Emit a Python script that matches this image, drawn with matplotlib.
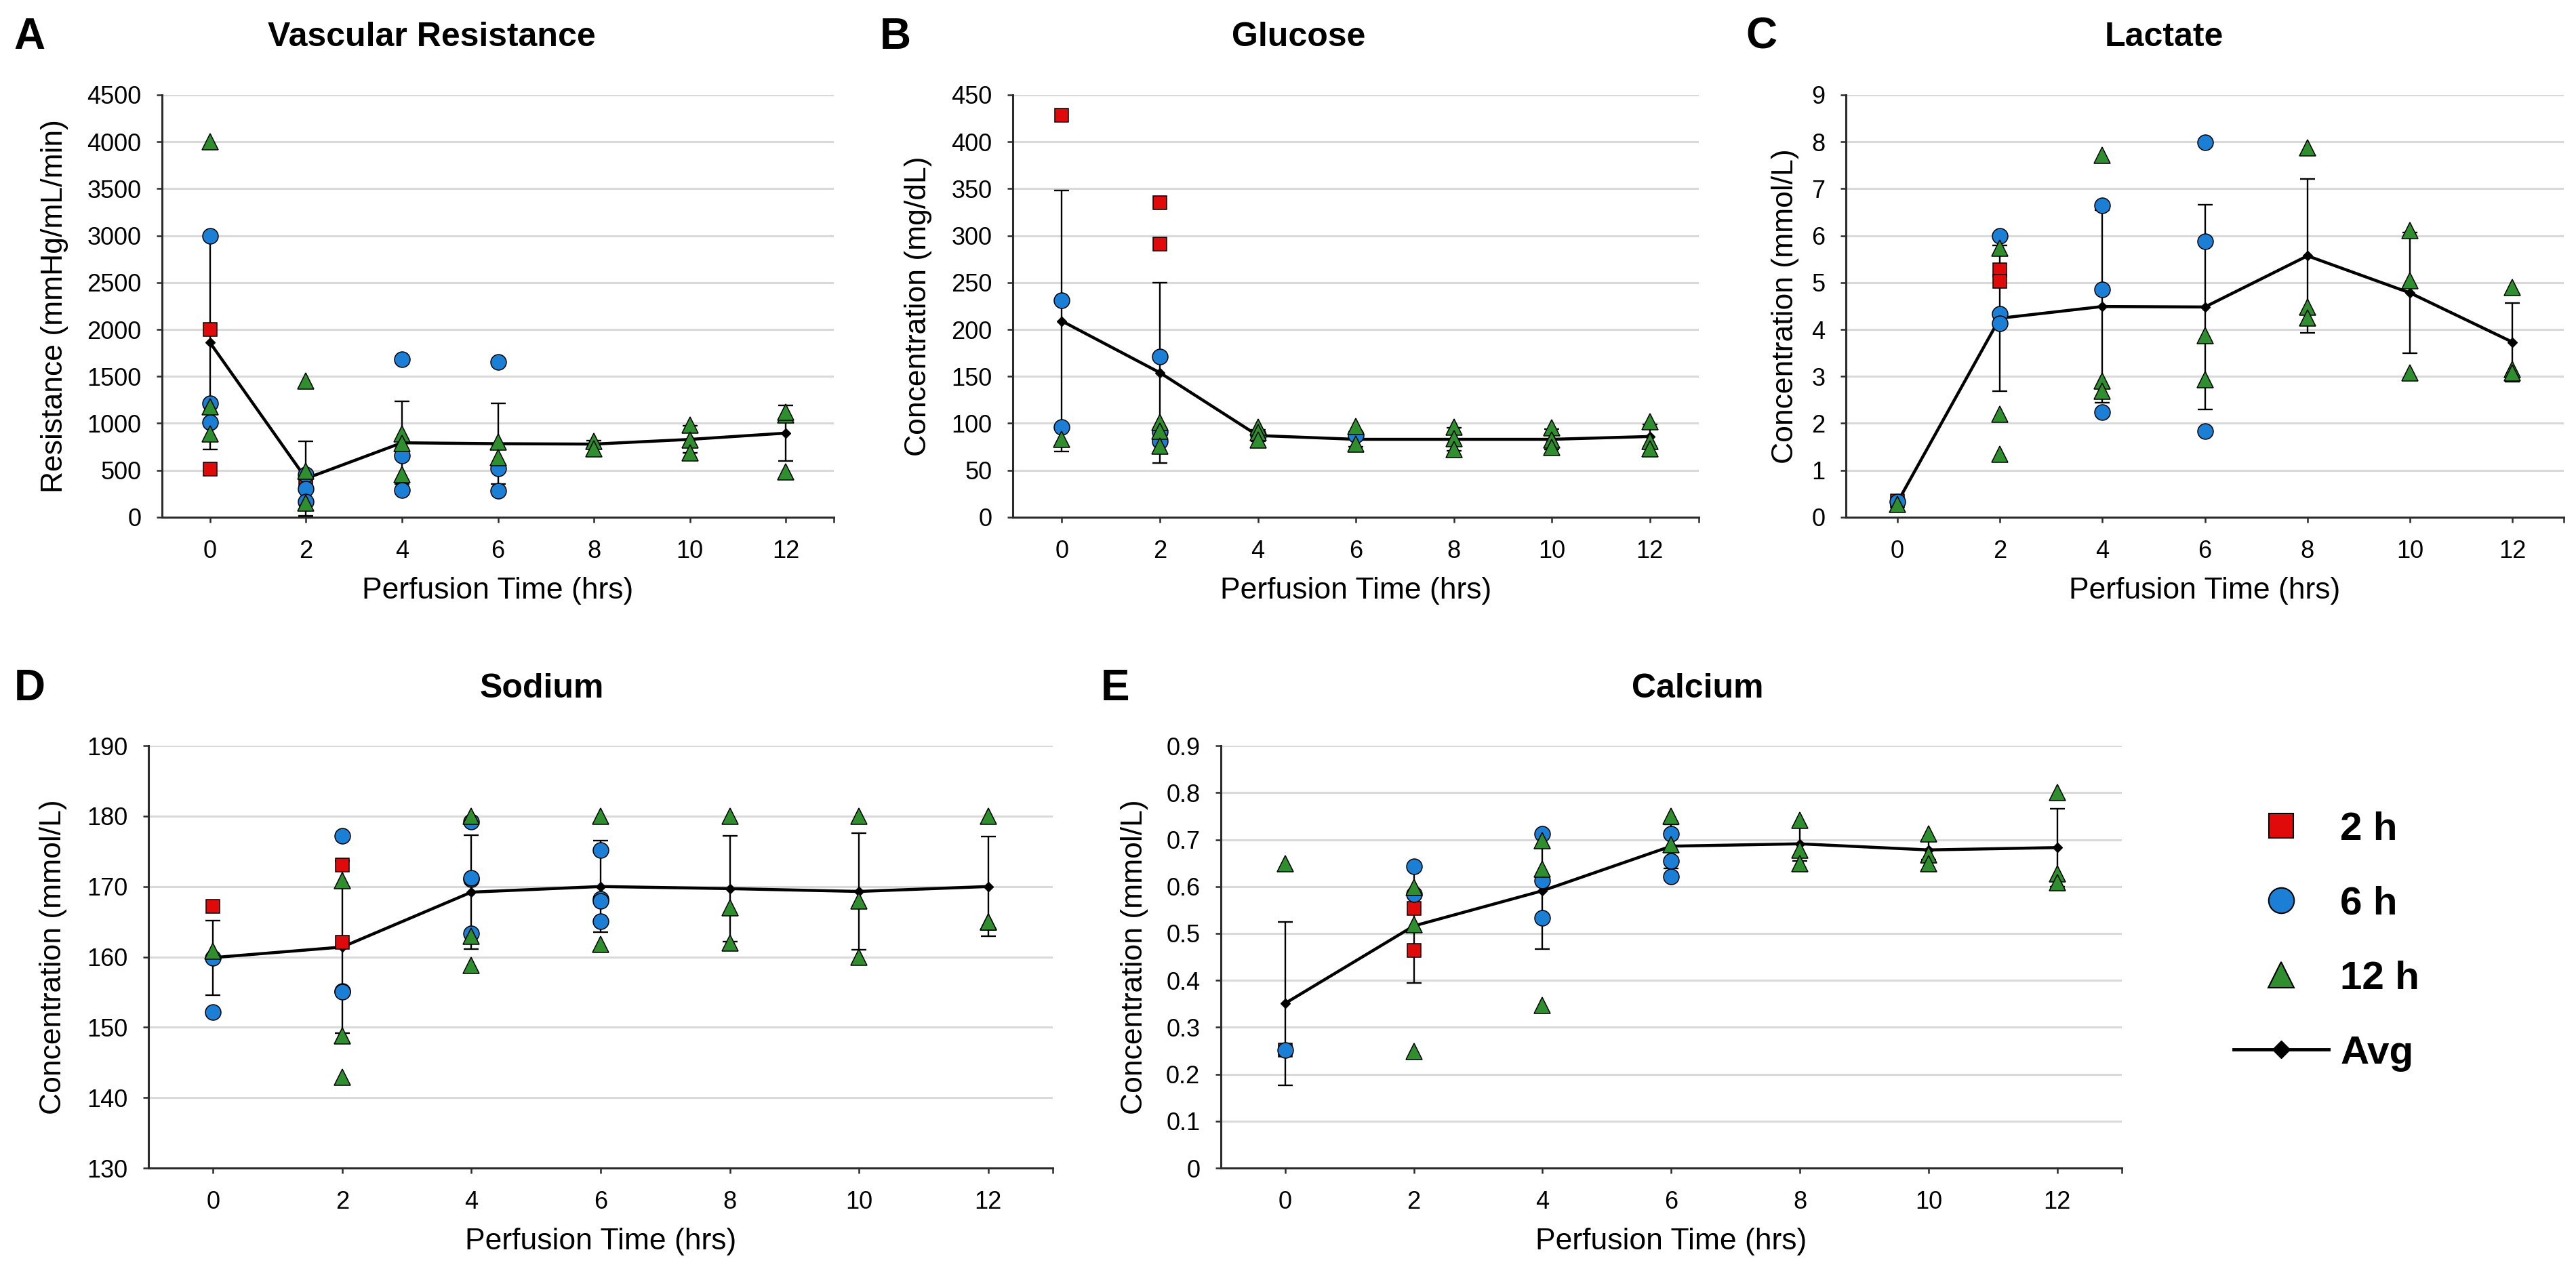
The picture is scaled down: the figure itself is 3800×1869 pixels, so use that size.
import matplotlib
matplotlib.use('Agg')
import matplotlib.pyplot as plt
from matplotlib.lines import Line2D

plt.rcParams['font.family'] = ['Liberation Sans', 'DejaVu Sans']

hours = [0, 2, 4, 6, 8, 10, 12]

# A - vascular resistance
res_2h_x = [0, 0, 2]
res_2h_y = [2000, 510, 380]
res_6h_x = [0, 0, 0, 2, 2, 2, 4, 4, 4, 6, 6, 6]
res_6h_y = [3000, 1210, 1010, 457, 305, 168, 1680, 655, 290, 1655, 521, 283]
res_12h_x = [0, 0, 0, 2, 2, 2, 4, 4, 4, 6, 6, 8, 8, 10, 10, 10, 12, 12, 12]
res_12h_y = [4000, 1175, 890, 1450, 490, 150, 890, 787, 457, 804, 638, 812, 729, 979, 825, 687, 1090, 1120, 480]
res_avg = [1860, 412, 793, 783, 779, 829, 896]
res_sd = [1135, 395, 442, 429, 40, 146, 295]

# B - glucose
glu_2h_x = [0, 2, 2]
glu_2h_y = [428, 335, 291]
glu_6h_x = [0, 0, 2, 2, 2, 4, 6]
glu_6h_y = [231, 96, 171, 91, 81, 87, 87]
glu_12h_x = [0, 2, 2, 2, 4, 4, 4, 6, 6, 8, 8, 8, 10, 10, 10, 12, 12, 12]
glu_12h_y = [83, 101, 92, 76, 96, 90, 82, 97, 78, 96, 84, 72, 95, 82, 74, 102, 81, 73]
glu_avg = [209, 154, 87, 83, 83, 83, 86]
glu_sd = [139, 96, 6, 8, 12, 11, 13]

# C - lactate
lac_2h_x = [0, 2, 2]
lac_2h_y = [0.35, 5.27, 5.03]
lac_6h_x = [0, 2, 2, 2, 4, 4, 4, 6, 6, 6]
lac_6h_y = [0.33, 5.99, 4.33, 4.13, 6.65, 4.85, 2.24, 7.99, 5.88, 1.83]
lac_12h_x = [0, 2, 2, 2, 4, 4, 4, 6, 6, 8, 8, 8, 10, 10, 10, 12, 12, 12]
lac_12h_y = [0.27, 5.73, 2.20, 1.34, 7.71, 2.90, 2.68, 3.87, 2.93, 7.88, 4.48, 4.25, 6.11, 5.04, 3.08, 4.90, 3.15, 3.07]
lac_avg = [0.31, 4.24, 4.49, 4.48, 5.57, 4.78, 3.73]
lac_sd = [0.04, 1.55, 2.05, 2.18, 1.64, 1.28, 0.84]

# D - sodium
na_2h_x = [0, 2, 2]
na_2h_y = [167.2, 173.1, 162.1]
na_6h_x = [0, 0, 2, 2, 2, 4, 4, 4, 4, 6, 6, 6, 6]
na_6h_y = [159.9, 152.2, 177.2, 155.1, 155.0, 179.2, 171.0, 171.2, 163.3, 175.2, 168.2, 168.0, 165.1]
na_12h_x = [0, 2, 2, 2, 4, 4, 4, 6, 6, 8, 8, 8, 10, 10, 10, 12, 12, 12]
na_12h_y = [160.8, 170.8, 148.8, 142.9, 180.0, 162.9, 158.8, 180.0, 161.8, 180.0, 167.0, 162.0, 180.0, 168.0, 160.0, 180.0, 165.0, 165.0]
na_avg = [159.9, 161.4, 169.2, 170.0, 169.7, 169.3, 170.0]
na_sd = [5.3, 12.2, 8.1, 6.5, 7.5, 8.3, 7.1]

# E - calcium
ca_2h_x = [0, 2, 2]
ca_2h_y = [0.252, 0.553, 0.464]
ca_6h_x = [0, 2, 2, 4, 4, 4, 6, 6, 6]
ca_6h_y = [0.252, 0.643, 0.584, 0.713, 0.612, 0.533, 0.712, 0.655, 0.622]
ca_12h_x = [0, 2, 2, 2, 4, 4, 4, 6, 6, 8, 8, 8, 10, 10, 10, 12, 12, 12]
ca_12h_y = [0.649, 0.598, 0.519, 0.249, 0.698, 0.637, 0.347, 0.750, 0.689, 0.741, 0.678, 0.649, 0.712, 0.667, 0.649, 0.800, 0.627, 0.609]
ca_avg = [0.351, 0.516, 0.591, 0.686, 0.691, 0.678, 0.683]
ca_sd = [0.174, 0.121, 0.124, 0.047, 0.037, 0.02, 0.083]

RED = '#E10A0A'
BLUE = '#1C7FD6'
GREEN = '#2F8F2F'
GRID = '#D9D9D9'
AXC = '#2B2B2B'

fig = plt.figure(figsize=(38, 18.69), dpi=100)


def panel(rect, g2, g6, g12, avg, sd, ylim, ystep, ylabel, ylab_x, title, tx, ty, letter, lx):
    ax = fig.add_axes(rect)
    ax.errorbar(hours, avg, yerr=sd, color='black', lw=3.2, marker='D', ms=7,
                ecolor='black', elinewidth=1.7, capsize=8, capthick=1.7, zorder=3)
    ax.plot(g2[0], g2[1], ls='none', marker='s', ms=15, mfc=RED, mec='black', mew=1.1, zorder=4)
    ax.plot(g6[0], g6[1], ls='none', marker='o', ms=16.5, mfc=BLUE, mec='black', mew=1.1, zorder=4)
    ax.plot(g12[0], g12[1], ls='none', marker='^', ms=17, mfc=GREEN, mec='black', mew=1.1, zorder=4)
    ax.set_xlim(-1, 13)
    ax.set_ylim(*ylim)
    yt = [ylim[0] + i * ystep for i in range(int(round((ylim[1] - ylim[0]) / ystep)) + 1)]
    ax.set_yticks(yt)
    ax.set_yticklabels([f'{round(v, 3):g}' for v in yt])
    ax.set_xticks(hours)
    ax.set_xticks([13], minor=True)
    ax.tick_params(axis='x', which='both', length=6, width=1.8, color=AXC, pad=18, labelsize=26)
    ax.tick_params(axis='y', length=6, width=1.8, color=AXC, pad=16, labelsize=26)
    ax.grid(axis='y', color=GRID, lw=2.2, zorder=0)
    ax.set_axisbelow(True)
    for s in ['top', 'right']:
        ax.spines[s].set_visible(False)
    for s in ['left', 'bottom']:
        ax.spines[s].set_color(AXC)
        ax.spines[s].set_linewidth(2.2)
    ax.set_xlabel('Perfusion Time (hrs)', fontsize=32, va='center')
    ax.xaxis.set_label_coords(0.5, -0.174)
    ax.set_ylabel(ylabel, fontsize=32, va='center')
    ax.yaxis.set_label_coords(ylab_x, 0.5)
    fig.text(tx, ty, title, fontsize=36, fontweight='bold', ha='center', va='center')
    fig.text(lx, ty, letter, fontsize=46, fontweight='bold', ha='left', va='center')
    return ax


top_y = 0.9706
bot_y = 0.4564

panel([0.0629, 0.5918, 0.2608, 0.3333], (res_2h_x, res_2h_y), (res_6h_x, res_6h_y),
      (res_12h_x, res_12h_y), res_avg, res_sd, (0, 4500), 500,
      'Resistance (mmHg/mL/min)', -0.160, 'Vascular Resistance', 0.1676, top_y, 'A', 0.0053)
panel([0.3932, 0.5918, 0.2663, 0.3333], (glu_2h_x, glu_2h_y), (glu_6h_x, glu_6h_y),
      (glu_12h_x, glu_12h_y), glu_avg, glu_sd, (0, 450), 50,
      'Concentration (mg/dL)', -0.138, 'Glucose', 0.504, top_y, 'B', 0.3416)
panel([0.7166, 0.5918, 0.2787, 0.3333], (lac_2h_x, lac_2h_y), (lac_6h_x, lac_6h_y),
      (lac_12h_x, lac_12h_y), lac_avg, lac_sd, (0, 9), 1,
      'Concentration (mmol/L)', -0.085, 'Lactate', 0.840, top_y, 'C', 0.6776)
panel([0.0576, 0.0781, 0.3511, 0.3333], (na_2h_x, na_2h_y), (na_6h_x, na_6h_y),
      (na_12h_x, na_12h_y), na_avg, na_sd, (130, 190), 10,
      'Concentration (mmol/L)', -0.105, 'Sodium', 0.2103, bot_y, 'D', 0.0055)
panel([0.4739, 0.0781, 0.3497, 0.3333], (ca_2h_x, ca_2h_y), (ca_6h_x, ca_6h_y),
      (ca_12h_x, ca_12h_y), ca_avg, ca_sd, (0, 0.9), 0.1,
      'Concentration (mmol/L)', -0.0956, 'Calcium', 0.659, bot_y, 'E', 0.4274)

handles = [
    Line2D([], [], ls='none', marker='s', ms=26, mfc=RED, mec='black', mew=1.5),
    Line2D([], [], ls='none', marker='o', ms=27, mfc=BLUE, mec='black', mew=1.5),
    Line2D([], [], ls='none', marker='^', ms=28, mfc=GREEN, mec='black', mew=1.5),
    Line2D([], [], color='black', lw=3.5, marker='D', ms=13),
]
fig.legend(handles, ['2 h', '6 h', '12 h', 'Avg'], loc='center left',
           bbox_to_anchor=(0.867, 0.257), frameon=False, borderpad=0, borderaxespad=0,
           handlelength=2.4, handletextpad=0.3, labelspacing=0.96,
           prop={'size': 42, 'weight': 'bold'})

fig.savefig('out.png', dpi=100)
